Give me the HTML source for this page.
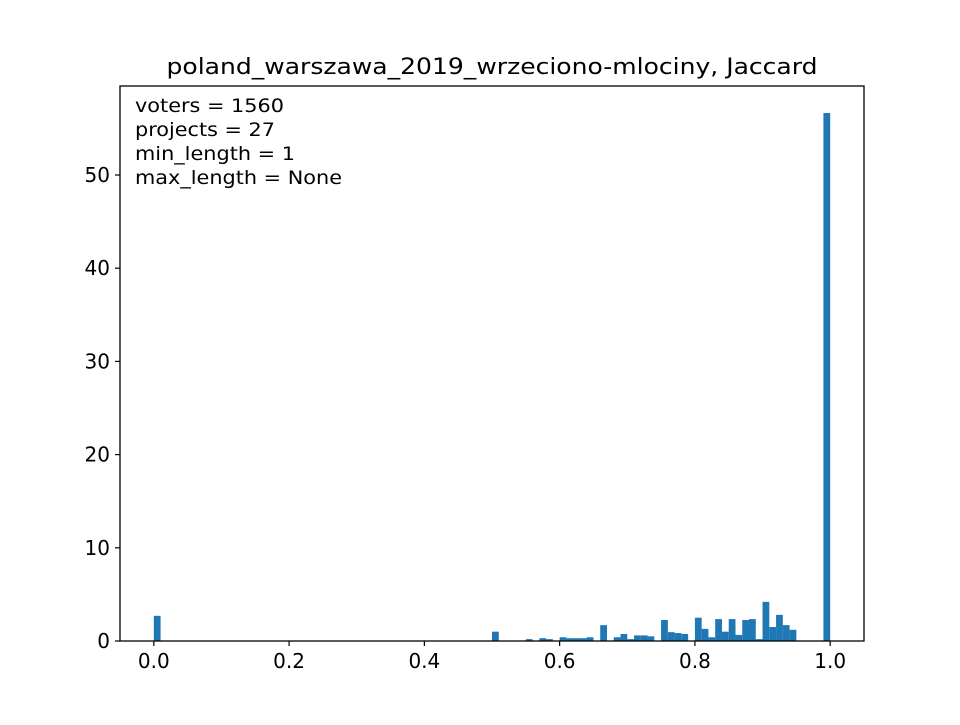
<!DOCTYPE html>
<html><head><meta charset="utf-8"><style>
body{margin:0;background:#fff;}
svg text{font-family:"DejaVu Sans","Liberation Sans",sans-serif;fill:#000;}
</style></head><body>
<svg id="chart" width="960" height="720">
<rect width="960" height="720" fill="#fff"/>
<text x="492" y="74" font-size="22" text-anchor="middle" textLength="651" lengthAdjust="spacingAndGlyphs">poland_warszawa_2019_wrzeciono-mlociny, Jaccard</text>
<g id="bars"></g>
<g id="axes"></g>
<rect x="120" y="86" width="744" height="555" fill="none" stroke="#000" stroke-width="1.3"/>
<g font-size="19">
<text x="135" y="112" textLength="149" lengthAdjust="spacingAndGlyphs">voters = 1560</text>
<text x="135" y="136" textLength="140" lengthAdjust="spacingAndGlyphs">projects = 27</text>
<text x="135" y="160" textLength="160" lengthAdjust="spacingAndGlyphs">min_length = 1</text>
<text x="135" y="184" textLength="207" lengthAdjust="spacingAndGlyphs">max_length = None</text>
</g>
</svg>
<script>
const binIndices=[0,34,40,42,44,46,48,50,52,53,54,55,57,58,60,61,62,63,64,66,68,69,70,71,72,73,75,76,77,78,80,81,82,83,84,85,86,87,88,89,90,91,92,93,94,99];
const binValues=[2.7,0.05,0.05,0.05,0.05,0.05,0.05,1.0,0.05,0.05,0.05,0.2,0.3,0.2,0.4,0.3,0.3,0.3,0.4,1.7,0.4,0.75,0.2,0.6,0.6,0.5,2.25,0.95,0.85,0.75,2.5,1.3,0.4,2.35,1.0,2.35,0.65,2.25,2.35,0.2,4.2,1.5,2.8,1.7,1.2,56.65];
const xTicks=[0,0.2,0.4,0.6,0.8,1.0];
const xTickLabels=["0.0","0.2","0.4","0.6","0.8","1.0"];
const yTicks=[0,10,20,30,40,50];
const nBins=100;
const NS="http://www.w3.org/2000/svg";
const xs=v=>120+(v+0.05)/1.1*744;
const ys=v=>641-v*(555/59.55);
const bars=document.getElementById('bars');
binIndices.forEach((b,i)=>{
 const r=document.createElementNS(NS,'rect');
 const x0=xs(b/nBins),x1=xs((b+1)/nBins);
 r.setAttribute('x',x0);r.setAttribute('width',x1-x0);
 r.setAttribute('y',ys(binValues[i]));r.setAttribute('height',641-ys(binValues[i]));
 r.setAttribute('fill','#1f77b4');
 
 
 bars.appendChild(r);
});
const axes=document.getElementById('axes');
function add(tag,attrs,text){const e=document.createElementNS(NS,tag);for(const k in attrs)e.setAttribute(k,attrs[k]);if(text!==undefined)e.textContent=text;axes.appendChild(e);return e;}
xTicks.forEach((t,i)=>{
 const x=xs(t);
 add('line',{x1:x,x2:x,y1:641,y2:646,stroke:'#000','stroke-width':1.2});
 const tx=add('text',{x:x,y:668,'font-size':20,'text-anchor':'middle'},xTickLabels[i]);
 
 
});
yTicks.forEach(t=>{
 const y=ys(t);
 add('line',{x1:115,x2:120,y1:y,y2:y,stroke:'#000','stroke-width':1.2});
 const tx=add('text',{x:110,y:y+7,'font-size':20,'text-anchor':'end'},String(t));
 
 
});
</script>
</body></html>
